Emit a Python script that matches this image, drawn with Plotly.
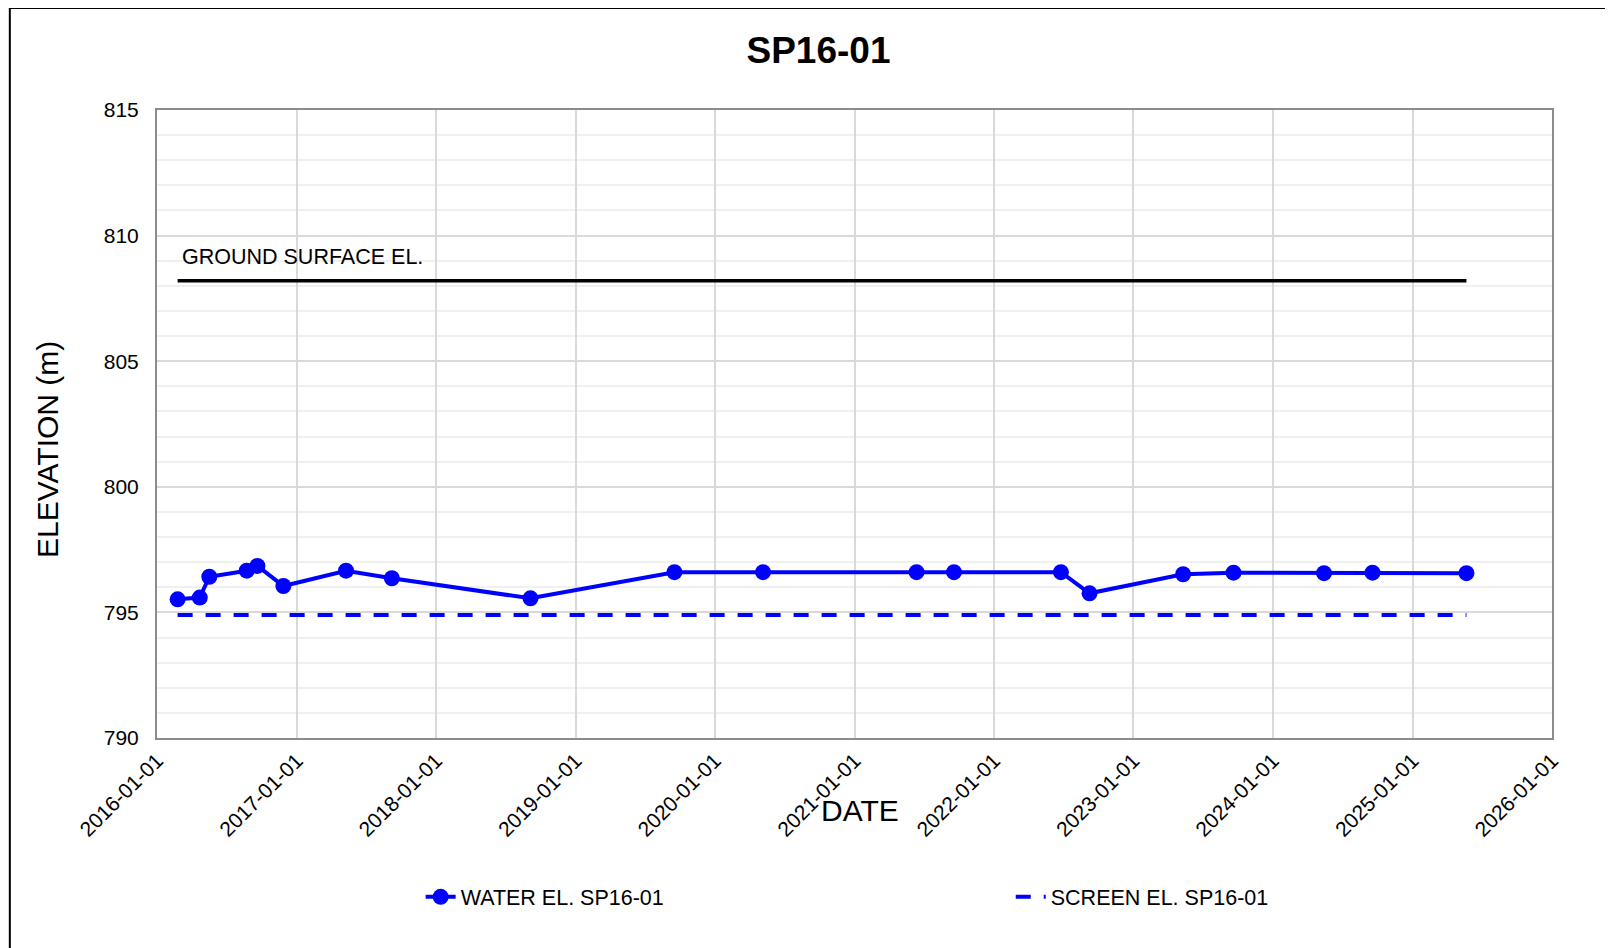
import plotly.graph_objects as go

# water level readings, SP16-01
dates = ['2016-02-24', '2016-04-22', '2016-05-17', '2016-08-23', '2016-09-20',
         '2016-11-27', '2017-05-10', '2017-09-07', '2018-09-05', '2019-09-17',
         '2020-05-06', '2021-06-12', '2021-09-18', '2022-06-25', '2022-09-08',
         '2023-05-11', '2023-09-20', '2024-05-14', '2024-09-18', '2025-05-22']
water_el = [795.52, 795.59, 796.42, 796.66, 796.85, 796.05, 796.66, 796.36, 795.56,
            796.60, 796.60, 796.60, 796.60, 796.60, 795.76, 796.52, 796.58, 796.56,
            796.58, 796.56]

ref_dates = [dates[0], dates[-1]]
screen_el = [794.9, 794.9]
ground_el = [808.2, 808.2]

FONT = 'Liberation Sans, Arial, sans-serif'

fig = go.Figure()

fig.add_trace(go.Scatter(
    x=ref_dates, y=ground_el, mode='lines',
    line=dict(color='black', width=3.5),
    showlegend=False, hoverinfo='skip'
))

fig.add_trace(go.Scatter(
    x=ref_dates, y=screen_el, mode='lines', name='SCREEN EL. SP16-01',
    line=dict(color='#0000ff', width=4, dash='15px,13px'),
    legend='legend2'
))

fig.add_trace(go.Scatter(
    x=dates, y=water_el, mode='lines+markers', name='WATER EL. SP16-01',
    line=dict(color='#0000ff', width=4),
    marker=dict(color='#0000ff', size=16),
    legend='legend'
))

fig.add_annotation(
    x=dates[0], y=809.15, xref='x', yref='y', text='GROUND SURFACE EL.',
    showarrow=False, xanchor='left', yanchor='middle', xshift=2,
    font=dict(size=21.5, color='black', family=FONT)
)

# axis titles placed by hand (the original sits lower / overlaps tick labels)
fig.add_annotation(
    x=0.504, y=-0.115, xref='paper', yref='paper', text='DATE',
    showarrow=False, xanchor='center', yanchor='middle',
    font=dict(size=30, color='black', family=FONT)
)
fig.add_annotation(
    x=-0.078, y=0.459, xref='paper', yref='paper', text='ELEVATION (m)',
    textangle=-90, showarrow=False, xanchor='center', yanchor='middle',
    font=dict(size=30, color='black', family=FONT)
)

# outer chart frame
fig.add_shape(type='rect', xref='paper', yref='paper',
              x0=-0.1055, x1=1.08, y0=-0.45, y1=1.1625,
              line=dict(color='black', width=2), layer='above')

# page body adds an 8px offset, so the figure is drawn 8px smaller
fig.update_layout(
    width=1605, height=940,
    margin=dict(l=149, r=61, t=102, b=210),
    paper_bgcolor='white', plot_bgcolor='white',
    font=dict(family=FONT, color='black'),
    title=dict(text='SP16-01', x=0.505, xanchor='center', y=1 - 42 / 940,
               yanchor='middle', yref='container',
               font=dict(size=37, weight='bold', family=FONT, color='black')),
    legend=dict(orientation='h', x=0.189, xanchor='left', y=-0.253, yanchor='middle',
                font=dict(size=21.5, family=FONT), bgcolor='rgba(0,0,0,0)'),
    legend2=dict(orientation='h', x=0.612, xanchor='left', y=-0.253, yanchor='middle',
                 font=dict(size=21.5, family=FONT), bgcolor='rgba(0,0,0,0)'),
)

fig.update_xaxes(
    type='date', range=['2016-01-01', '2026-01-01'],
    dtick='M12', tick0='2016-01-01', tickformat='%Y-%m-%d', tickangle=-45,
    tickfont=dict(size=21, family=FONT),
    showgrid=True, gridcolor='#d9d9d9', gridwidth=1.5,
    showline=True, linecolor='#8c8c8c', linewidth=2, mirror=True,
    zeroline=False, ticks=''
)

fig.update_yaxes(
    range=[790, 815], dtick=5, tick0=790,
    tickfont=dict(size=21, family=FONT),
    showgrid=True, gridcolor='#d9d9d9', gridwidth=1.5,
    minor=dict(dtick=1, showgrid=True, gridcolor='#f0f0f0', gridwidth=1.5),
    showline=True, linecolor='#8c8c8c', linewidth=2, mirror=True,
    zeroline=False, ticks='', ticklabelstandoff=12
)

fig.write_html('out.html')
